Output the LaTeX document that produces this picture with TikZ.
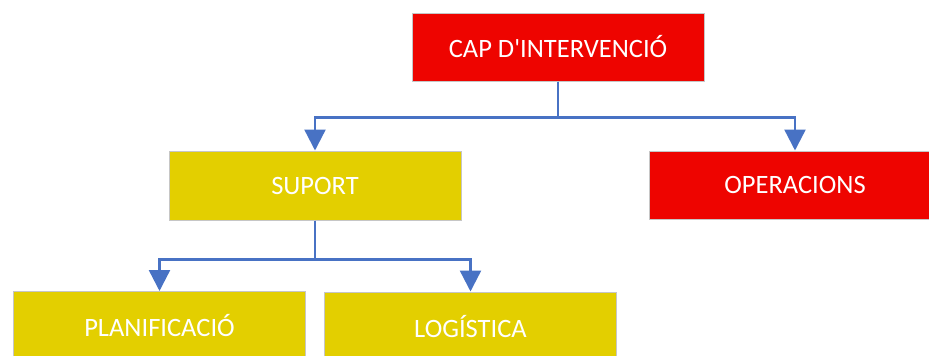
\documentclass[tikz,border=0pt]{standalone}
\usepackage{fontspec}
\setmainfont{Carlito}
\usetikzlibrary{arrows.meta}
\definecolor{capred}{RGB}{238,4,0}
\definecolor{groc}{RGB}{227,207,0}
\definecolor{fletxa}{RGB}{72,114,196}
\begin{document}
\begin{tikzpicture}[x=1pt,y=-1pt,
    caixa/.style={draw=gray!45,line width=1pt,minimum width=292pt,
        text=white,font=\fontsize{26.5}{30}\selectfont},
    vermella/.style={caixa,fill=capred,minimum height=68pt},
    groga/.style={caixa,fill=groc,minimum height=69pt},
    conn/.style={draw=fletxa,line width=2.4pt,
        -{Triangle[length=21pt,width=21pt]}}]
        \useasboundingbox (0,0) rectangle (929,356);
        \clip (0,0) rectangle (929,356);

        \node[vermella] (cap) at (558,47) {CAP D\textquotesingle INTERVENCIÓ};
        \node[groga] (suport) at (315,185.5) {SUPORT};
        \node[vermella] (oper) at (795,185) {OPERACIONS};
        \node[groga] (plan) at (159.5,326) {PLANIFICACIÓ}; % Tallada
        \node[groga] (logis) at (470.5,326.5) {LOGÍSTICA};

        \draw[conn] (cap.south) -- ++(0,36) -| (suport.north);
        \draw[conn] (cap.south) -- ++(0,36) -| (oper.north);
        \draw[conn] (suport.south) -- ++(0,39) -| (plan.north);
        \draw[conn] (suport.south) -- ++(0,39) -| (logis.north);
    \end{tikzpicture}
\end{document}
